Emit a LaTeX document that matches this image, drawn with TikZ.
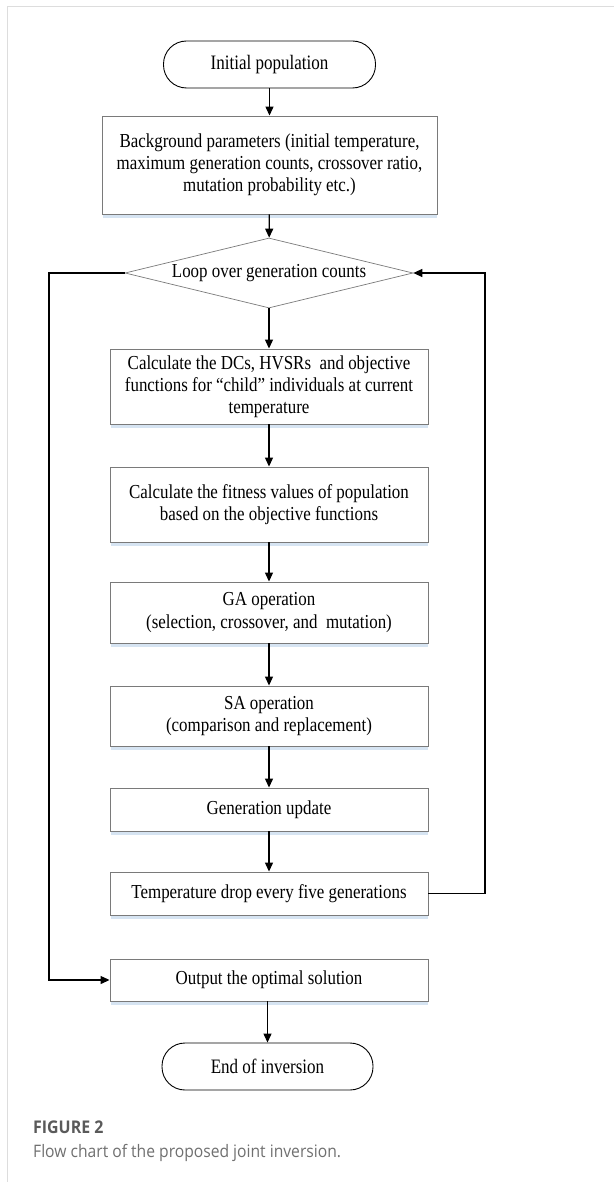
\documentclass[tikz,border=0pt]{standalone}
\usepackage{fontspec}
\setmainfont{Liberation Serif}
\newfontfamily\boxfont[FakeStretch=0.855,Ligatures=TeX]{Liberation Serif}
\newfontfamily\termfont[FakeStretch=0.83,Ligatures=TeX]{Liberation Serif}
\newfontfamily\capfont[FakeStretch=0.91]{Open Sans}
\usetikzlibrary{shapes.geometric,arrows.meta,calc}
\definecolor{boxgray}{HTML}{7A7A7A}
\definecolor{framegray}{HTML}{DDDDDD}
\definecolor{shadowblue}{HTML}{D6E4F2}
\definecolor{capdark}{HTML}{5A5A5A}
\definecolor{caplight}{HTML}{707070}
\tikzset{
  stepbox/.style={draw=boxgray, line width=0.9pt, fill=white, minimum width=318pt, align=center, inner sep=2pt, font=\boxfont\fontsize{19.8}{22.2}\selectfont},
  termbox/.style={draw=black, line width=0.9pt, rounded corners=23pt, minimum width=212pt, minimum height=47pt, align=center, font=\termfont\fontsize{20.5}{22}\selectfont},
  loopbox/.style={draw=boxgray, line width=0.7pt, diamond, aspect=4, minimum width=288pt, minimum height=70pt, inner sep=0pt, font=\boxfont\fontsize{19.8}{22}\selectfont},
  conn/.style={draw=black, line width=1.2pt, -{Triangle[length=9pt,width=8pt]}},
  shadowline/.style={fill=shadowblue, draw=none}
}
\begin{document}
\begin{tikzpicture}[x=1pt,y=-1pt]
\useasboundingbox (0,0) rectangle (614,1182);
\fill[white] (0,0) rectangle (614,1182);
\draw[framegray, line width=1pt] (7,1182) -- (7,7) -- (614,7);

\node[termbox] (init) at (269.5,64.5) {Initial population};
\node[stepbox, minimum width=335pt, minimum height=98pt] (bg) at (269.5,165) {Background parameters (initial temperature,\\maximum generation counts, crossover ratio,\\mutation probability etc.)};
\node[loopbox] (loop) at (269,273) {Loop over generation counts};
\node[stepbox, minimum height=75pt] (calc) at (269,386.5) {Calculate the DCs, HVSRs~ and objective\\functions for “child” individuals at current\\temperature};
\node[stepbox, minimum height=75pt] (fit) at (269,504.5) {Calculate the fitness values of population\\based on the objective functions};
\node[stepbox, minimum height=61pt] (ga) at (269,612.5) {GA operation\\(selection, crossover, and~ mutation)};
\node[stepbox, minimum height=60pt] (sa) at (269,716) {SA operation\\(comparison and replacement)};
\node[stepbox, minimum height=43pt] (gen) at (269,809.5) {Generation update};
\node[stepbox, minimum height=43pt] (temp) at (269,893.5) {Temperature drop every five generations};
\node[stepbox, minimum height=42pt] (out) at (269,980) {Output the optimal solution};
\node[termbox, minimum width=211pt] (end) at (267.5,1066.5) {End of inversion};

\foreach \b in {bg,calc,fit,ga,sa,gen,temp,out}{
  \fill[shadowline] ($(\b.south west)+(1,1)$) rectangle ($(\b.south east)+(0,3.5)$);
}

\coordinate (lc) at (49,0);
\coordinate (rc) at (485,0);

\draw[conn] (init) -- (bg);
\draw[conn] (bg) -- (loop);
\draw[conn] (loop) -- (calc);
\draw[conn] (calc) -- (fit);
\draw[conn] (fit) -- (ga);
\draw[conn] (ga) -- (sa);
\draw[conn] (sa) -- (gen);
\draw[conn] (gen) -- (temp);
\draw[conn] (out.south -| end.north) -- (end.north);
\draw[conn] (loop.west) -- (loop.west -| lc) -- (out.west -| lc) -- (out.west);
\draw[conn] (temp.east) -- (temp.east -| rc) -- (loop.east -| rc) -- (loop.east);

\node[anchor=base west, inner sep=0pt, text=capdark, font=\capfont\fontsize{17.5}{20}\selectfont\bfseries] (figlab) at (33,1133) {FIGURE 2};
\node[anchor=base west, inner sep=0pt, text=caplight, font=\capfont\fontsize{17.2}{20}\selectfont] (figcap) at (33,1157.5) {Flow chart of the proposed joint inversion.};
\end{tikzpicture}
\end{document}
